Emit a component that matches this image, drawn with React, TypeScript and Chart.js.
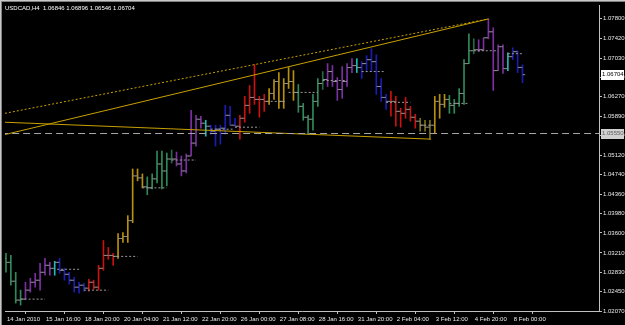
import React, { useEffect, useRef } from 'react';
import { Chart, registerables } from 'chart.js';

Chart.register(...registerables);

const titleText = 'USDCAD,H4  1.06846 1.06896 1.06546 1.06704';

const tickBars = [0, 8, 16, 24, 32, 40, 48, 56, 64, 72, 80, 88, 96, 104];
const tickLabels = ['14 Jan 2010', '15 Jan 16:00', '18 Jan 20:00', '20 Jan 04:00', '21 Jan 12:00', '22 Jan 20:00', '26 Jan 00:00', '27 Jan 08:00', '28 Jan 16:00', '31 Jan 20:00', '2 Feb 04:00', '3 Feb 12:00', '4 Feb 20:00', '8 Feb 00:00'];

const priceTicks = [1.0207, 1.0245, 1.0283, 1.0321, 1.036, 1.0398, 1.0436, 1.0474, 1.0512, 1.0551, 1.0589, 1.0627, 1.0665, 1.0703, 1.0742, 1.078];

const opens = [1.03102,1.03024,1.02654,1.02284,1.02303,1.02479,1.02634,1.02673,1.02829,1.02966,
 1.02907,1.03024,1.02868,1.02790,1.02673,1.02537,1.02576,1.02518,1.02634,1.02537,
 1.02907,1.03160,1.03160,1.03141,1.03492,1.03531,1.03842,1.04719,1.04680,1.04505,
 1.04485,1.04661,1.04953,1.04816,1.05050,1.05050,1.04953,1.04816,1.05109,1.05362,
 1.05830,1.05752,1.05693,1.05596,1.05635,1.05654,1.05907,1.05713,1.05693,1.05849,
 1.06102,1.06258,1.06219,1.06219,1.06180,1.06336,1.06570,1.06180,1.06531,1.06570,
 1.06356,1.06083,1.05869,1.05830,1.06180,1.06531,1.06609,1.06765,1.06570,1.06414,
 1.06570,1.06843,1.06882,1.06843,1.06921,1.06998,1.06959,1.06472,1.06258,1.06180,
 1.06180,1.05985,1.05946,1.06024,1.05869,1.05791,1.05713,1.05674,1.05713,1.06180,
 1.06122,1.06219,1.06102,1.06141,1.06336,1.06921,1.07173,1.07193,1.07193,1.07427,
 1.07544,1.06784,1.07252,1.06823,1.07057,1.07154,1.06846];

const highs = [1.03199,1.03160,1.02829,1.02479,1.02634,1.02712,1.02810,1.03005,1.03102,1.03024,
 1.03044,1.03102,1.02907,1.02829,1.02732,1.02634,1.02615,1.02693,1.02673,1.02966,
 1.03453,1.03316,1.03199,1.03589,1.03609,1.03940,1.04855,1.04855,1.04758,1.04700,
 1.04758,1.05206,1.05206,1.05167,1.05226,1.05187,1.05109,1.05148,1.06005,1.05907,
 1.05888,1.05810,1.05713,1.05713,1.05713,1.06102,1.06083,1.05849,1.05907,1.06278,
 1.06492,1.06901,1.06278,1.06317,1.06433,1.06609,1.06745,1.06628,1.06843,1.06784,
 1.06511,1.06141,1.05907,1.06317,1.06628,1.06765,1.06921,1.06882,1.06648,1.06862,
 1.06921,1.07018,1.07018,1.06959,1.07076,1.07213,1.07096,1.06628,1.06317,1.06375,
 1.06278,1.06044,1.06258,1.06083,1.05927,1.05849,1.05810,1.05810,1.06278,1.06317,
 1.06317,1.06297,1.06219,1.06433,1.06998,1.07505,1.07408,1.07388,1.07427,1.07797,
 1.07622,1.07291,1.07291,1.07134,1.07232,1.07173,1.06896];

const lows = [1.02829,1.02576,1.02225,1.02186,1.02303,1.02440,1.02537,1.02479,1.02771,1.02771,
 1.02771,1.02810,1.02673,1.02596,1.02440,1.02420,1.02459,1.02459,1.02498,1.02479,
 1.02868,1.03083,1.02966,1.03102,1.03414,1.03414,1.03803,1.04622,1.04485,1.04349,
 1.04466,1.04583,1.04466,1.04524,1.04972,1.04914,1.04719,1.04777,1.05109,1.05304,
 1.05654,1.05498,1.05537,1.05304,1.05342,1.05537,1.05713,1.05693,1.05440,1.05771,
 1.05946,1.06122,1.05869,1.05985,1.06122,1.06219,1.06044,1.06044,1.06433,1.06200,
 1.05966,1.05810,1.05537,1.05615,1.06083,1.06414,1.06472,1.06472,1.06200,1.06239,
 1.06472,1.06745,1.06745,1.06628,1.06784,1.06765,1.06317,1.06180,1.06024,1.05888,
 1.05693,1.05674,1.05849,1.05791,1.05654,1.05596,1.05596,1.05440,1.05556,1.05849,
 1.06063,1.05946,1.05946,1.06083,1.06122,1.06921,1.07115,1.07154,1.07173,1.07408,
 1.06395,1.06784,1.06726,1.06784,1.06998,1.06745,1.06546];

const closes = [1.03024,1.02654,1.02284,1.02303,1.02479,1.02634,1.02673,1.02829,1.02966,1.02907,
 1.03024,1.02868,1.02790,1.02673,1.02537,1.02576,1.02518,1.02634,1.02537,1.02907,
 1.03160,1.03160,1.03141,1.03492,1.03531,1.03842,1.04719,1.04680,1.04505,1.04485,
 1.04661,1.04953,1.04816,1.05050,1.05050,1.04953,1.04816,1.05109,1.05362,1.05830,
 1.05752,1.05693,1.05596,1.05635,1.05654,1.05907,1.05713,1.05693,1.05849,1.06102,
 1.06258,1.06219,1.06219,1.06180,1.06336,1.06570,1.06180,1.06531,1.06570,1.06356,
 1.06083,1.05869,1.05830,1.06180,1.06531,1.06609,1.06765,1.06570,1.06414,1.06570,
 1.06843,1.06882,1.06843,1.06921,1.06998,1.06959,1.06472,1.06258,1.06180,1.06180,
 1.05985,1.05946,1.06024,1.05869,1.05791,1.05713,1.05674,1.05713,1.06180,1.06122,
 1.06219,1.06102,1.06141,1.06336,1.06921,1.07173,1.07193,1.07193,1.07427,1.07544,
 1.06784,1.07252,1.06823,1.07057,1.07154,1.06846,1.06704];

// colour key per bar (one colour per trading day)
const barKeys = [
  'G','G','G','G',
  'P','P','P','P','P','P',
  'C',
  'B','B','B','B','B','B',
  'R','R','R','R','R','R',
  'Y','Y','Y','Y','Y','Y',
  'G','G','G','G','G','D',
  'P','P','P','P','P','P',
  'C',
  'B','B','B','B','B','B',
  'R','R','R','R','R','R',
  'Y','Y','Y','Y','Y','Y',
  'G','G','G','G','G','D',
  'P','P','P','P','P','P',
  'C',
  'B','B','B','B','B','B',
  'R','R','R','R','R','R',
  'O','O','O','Y','Y','Y',
  'G','G','G','G','G','D',
  'P','P','P','P','P','P',
  'C',
  'B','B','B'
];
const palette: Record<string, string> = {
  G: '#2E8B57', D: '#236b45', P: '#7B2FA3', C: '#1fb8b8', B: '#1c1cb4', R: '#cc1111', Y: '#b8900b', O: '#7a7214'
};

// dotted gray level segments
const levelValues = [1.02303, 1.02888, 1.02479, 1.03141, 1.04485, 1.05030, 1.05635, 1.05674, 1.06180, 1.06356, 1.06589, 1.06765, 1.06161, 1.05713, 1.06141, 1.07173, 1.07115];
const levelFrom = [3, 10.5, 16, 22, 28, 34, 42, 47, 53.5, 58, 65, 73, 78, 85, 91, 96, 103];
const levelTo = [8, 15, 21, 27, 33, 39, 46.5, 52, 57.5, 64, 70, 77.5, 83, 87.2, 95, 101, 106];

// trend lines [barIndex, price]
const upperDotted = [[-0.2, 1.05946], [99, 1.07797]];
const upperSolid = [[-0.2, 1.0553], [99, 1.07797]];
const lowerSolid = [[-0.2, 1.05771], [87.2, 1.0544]];
const levelLine = 1.0555;
const lastPrice = 1.06704;

const FAMILY = "'Liberation Sans', Arial, sans-serif";
const FSIZE = 6;

const mtPlugin = {
  id: 'mtDecor',
  afterDraw(chart: any) {
    const { ctx, chartArea: a } = chart;
    const ys = chart.scales.y;
    ctx.save();
    // frame
    ctx.fillStyle = '#c8c8c8';
    ctx.fillRect(0, 0, chart.width, 1);
    ctx.fillRect(0, 0, 1, chart.height);
    ctx.fillStyle = '#808080';
    ctx.fillRect(1, 1, chart.width - 1, 1);
    ctx.fillRect(1, 1, 1, chart.height - 1);
    // title
    ctx.font = `${FSIZE}px ${FAMILY}`;
    ctx.fillStyle = '#ffffff';
    ctx.textBaseline = 'middle';
    ctx.textAlign = 'left';
    ctx.fillText(titleText, 5, 8);
    // price boxes
    const box = (v: number, bg: string, fg: string) => {
      const py = ys.getPixelForValue(v);
      ctx.fillStyle = bg;
      ctx.fillRect(a.right + 2, Math.round(py) - 5, 23, 10);
      ctx.fillStyle = fg;
      ctx.fillText(v.toFixed(5), a.right + 3, py);
    };
    box(levelLine, '#d0d0d0', '#606060');
    box(lastPrice, '#ffffff', '#000000');
    ctx.restore();
  }
};

export default function App() {
  const ref = useRef<HTMLCanvasElement | null>(null);
  useEffect(() => {
    document.body.style.margin = '0';
    document.body.style.background = '#000';
    const canvas = ref.current;
    if (!canvas) return;

    const barData = highs.map((h, i) => ({ x: i, y: [lows[i], h] }));
    const openData = opens.map((o, i) => ({ x: i - 0.3, y: o }));
    const closeData = closes.map((c, i) => ({ x: i + 0.3, y: c }));
    const levelData: any[] = [];
    levelValues.forEach((v, k) => {
      levelData.push({ x: levelFrom[k], y: v });
      levelData.push({ x: levelTo[k], y: v });
      levelData.push({ x: levelTo[k] + 0.01, y: null });
    });
    const toPts = (arr: number[][]) => arr.map(([x, y]) => ({ x, y }));

    const chart = new Chart(canvas, {
      type: 'bar',
      data: {
        datasets: [
          { type: 'line', data: [{ x: -1, y: levelLine }, { x: 125, y: levelLine }], borderColor: '#a8a8a8', borderWidth: 1, borderDash: [7, 4], pointRadius: 0, order: 0 } as any,
          { type: 'line', data: toPts(upperDotted), borderColor: '#c8a000', borderWidth: 1, borderDash: [2, 2], pointRadius: 0, order: 0 } as any,
          { type: 'line', data: toPts(upperSolid), borderColor: '#c8a000', borderWidth: 1, pointRadius: 0, order: 0 } as any,
          { type: 'line', data: toPts(lowerSolid), borderColor: '#c8a000', borderWidth: 1, pointRadius: 0, order: 0 } as any,
          { type: 'line', data: levelData, borderColor: '#9a9a9a', borderWidth: 1, borderDash: [2, 2], pointRadius: 0, spanGaps: false, order: 1 } as any,
          { type: 'scatter', data: openData, pointStyle: 'line', radius: 1.2, borderColor: '#909090', borderWidth: 1, order: 2 } as any,
          { type: 'scatter', data: closeData, pointStyle: 'line', radius: 1.2, borderColor: '#909090', borderWidth: 1, order: 2 } as any,
          { type: 'bar', data: barData, backgroundColor: barKeys.map(k => palette[k]), barThickness: 1, borderWidth: 0, order: 3 } as any
        ]
      },
      options: {
        animation: false,
        responsive: false,
        devicePixelRatio: 1,
        events: [],
        layout: { padding: { left: 2, top: 3, right: 0, bottom: 0 } },
        plugins: { legend: { display: false }, tooltip: { enabled: false }, title: { display: false } },
        scales: {
          x: {
            type: 'linear', min: -0.2, max: 121.7, offset: false,
            afterBuildTicks: (s: any) => { s.ticks = tickBars.map(v => ({ value: v })); },
            afterFit: (s: any) => { s.height = 14; },
            grid: { display: true, drawOnChartArea: false, drawTicks: true, tickLength: 3, color: '#c0c0c0' },
            border: { display: true, color: '#c0c0c0' },
            ticks: {
              autoSkip: false, maxRotation: 0, minRotation: 0, align: 'start', padding: 2, labelOffset: 1,
              color: '#e8e8e8', font: { family: FAMILY, size: FSIZE },
              callback: (_v: any, i: number) => tickLabels[i] ?? ''
            }
          },
          y: {
            type: 'linear', position: 'right', min: 1.0207, max: 1.0807,
            afterBuildTicks: (s: any) => { s.ticks = priceTicks.map(v => ({ value: v })); },
            afterFit: (s: any) => { s.width = 26; },
            grid: { display: true, drawOnChartArea: false, drawTicks: true, tickLength: 3, color: '#c0c0c0' },
            border: { display: true, color: '#c0c0c0' },
            ticks: {
              autoSkip: false, padding: 1, color: '#e8e8e8', font: { family: FAMILY, size: FSIZE },
              callback: (v: any) => Number(v).toFixed(5)
            }
          }
        }
      } as any,
      plugins: [mtPlugin]
    });
    return () => chart.destroy();
  }, []);

  return (
    <div style={{ width: 625, height: 325, background: '#000' }}>
      <canvas ref={ref} width={625} height={325} style={{ display: 'block', background: '#000' }} />
    </div>
  );
}
